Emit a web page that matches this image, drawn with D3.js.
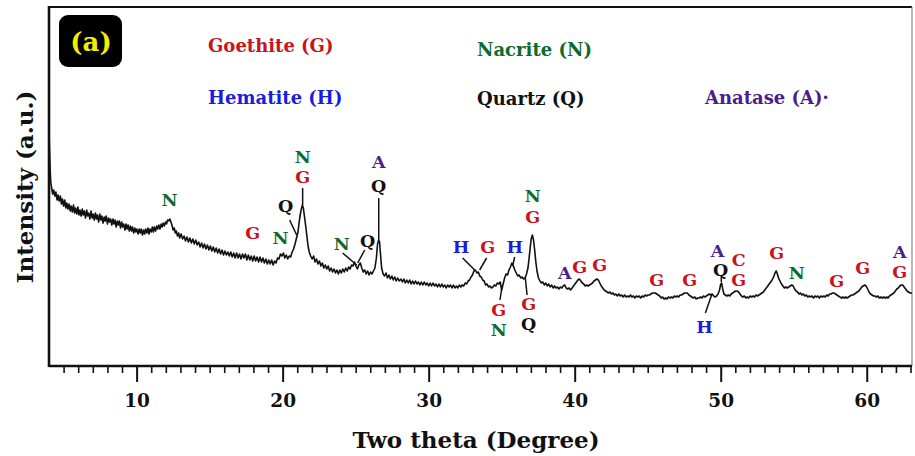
<!DOCTYPE html>
<html>
<head>
<meta charset="utf-8">
<script src="https://cdn.jsdelivr.net/npm/d3@7/dist/d3.min.js"></script>
<style>
  html, body { margin: 0; padding: 0; background: #fff; }
  svg { display: block; }
</style>
</head>
<body>
<svg id="chart" width="915" height="456"></svg>
<script>
// ---------------- DATA ----------------
// XRD pattern: [two theta (deg), intensity (a.u.)]
const pattern = [
[4.00,234],[4.04,215],[4.08,196],[4.12,184],[4.18,178],[4.25,172],[4.32,176],[4.40,170],[4.47,174],[4.55,166],[4.62,171],[4.70,165],[4.78,170],[4.85,162],[4.92,167],[5.00,160],[5.08,166],[5.15,158],[5.22,163],[5.30,157],[5.38,162],[5.45,155],[5.52,160],[5.60,154],[5.68,161],[5.75,153],[5.82,158],[5.90,152],[5.98,159],[6.05,151],[6.12,156],[6.20,150],[6.28,157],[6.35,151],[6.42,155],[6.50,148],[6.58,156],[6.65,150],[6.72,153],[6.80,147],[6.88,155],[6.95,148],[7.02,152],[7.10,146],[7.18,153],[7.25,147],[7.32,151],[7.40,144],[7.48,152],[7.55,146],[7.62,150],[7.70,143],[7.78,149],[7.85,145],[7.92,150],[8.00,142],[8.08,148],[8.15,144],[8.22,147],[8.30,141],[8.38,147],[8.45,142],[8.52,146],[8.60,139],[8.68,145],[8.75,141],[8.82,145],[8.90,138],[8.98,144],[9.05,139],[9.12,142],[9.20,136],[9.28,142],[9.35,137],[9.42,141],[9.50,135],[9.58,140],[9.65,135],[9.72,139],[9.80,133],[9.88,138],[9.95,134],[10.02,137],[10.10,132],[10.18,137],[10.25,133],[10.32,137],[10.40,131],[10.48,136],[10.55,132],[10.62,137],[10.70,133],[10.78,138],[10.85,132],[10.92,137],[11.00,134],[11.08,139],[11.15,134],[11.22,139],[11.30,135],[11.38,140],[11.45,137],[11.52,141],[11.60,137],[11.68,142],[11.75,139],[11.82,143],[11.90,140],[11.98,144],[12.05,142],[12.12,146],[12.20,145],[12.28,147],[12.35,144],[12.42,141],[12.50,136],[12.58,138],[12.65,133],[12.72,135],[12.80,130],[12.88,133],[12.95,128],[13.05,132],[13.15,127],[13.25,130],[13.35,125],[13.45,129],[13.55,124],[13.65,128],[13.75,123],[13.85,127],[13.95,122],[14.05,126],[14.15,121],[14.25,124],[14.35,119],[14.45,123],[14.55,118],[14.65,122],[14.75,117],[14.85,121],[14.95,116],[15.05,120],[15.15,115],[15.25,119],[15.35,114],[15.45,118],[15.55,113],[15.65,117],[15.75,112],[15.85,116],[15.95,111],[16.05,115],[16.15,111],[16.25,114],[16.35,110],[16.45,114],[16.55,109],[16.65,113],[16.75,108],[16.85,113],[16.95,108],[17.05,112],[17.15,107],[17.25,112],[17.35,108],[17.45,112],[17.55,106],[17.65,111],[17.75,106],[17.85,110],[17.95,105],[18.05,110],[18.15,105],[18.25,109],[18.35,104],[18.45,109],[18.55,104],[18.65,108],[18.75,103],[18.85,107],[18.95,102],[19.05,106],[19.15,102],[19.25,106],[19.35,101],[19.45,105],[19.55,103],[19.65,108],[19.75,107],[19.85,112],[19.95,110],[20.05,113],[20.15,108],[20.25,111],[20.35,107],[20.45,110],[20.55,109],[20.65,114],[20.75,117],[20.85,122],[20.95,128],[21.05,134],[21.15,146],[21.25,155],[21.35,161],[21.42,158],[21.50,149],[21.58,140],[21.66,130],[21.74,120],[21.82,114],[21.92,110],[22.02,107],[22.12,110],[22.22,104],[22.32,107],[22.42,102],[22.52,105],[22.62,100],[22.72,103],[22.82,98],[22.92,101],[23.02,97],[23.12,100],[23.22,95],[23.32,98],[23.42,94],[23.52,97],[23.62,93],[23.72,96],[23.82,92],[23.92,96],[24.02,93],[24.12,97],[24.22,94],[24.32,98],[24.42,95],[24.52,99],[24.62,97],[24.72,101],[24.82,100],[24.92,104],[25.02,100],[25.12,97],[25.22,101],[25.32,103],[25.42,98],[25.52,94],[25.62,96],[25.72,92],[25.82,95],[25.92,91],[26.02,94],[26.12,92],[26.22,95],[26.32,98],[26.42,108],[26.50,122],[26.58,126],[26.64,124],[26.70,112],[26.78,98],[26.88,92],[26.98,90],[27.08,93],[27.18,88],[27.28,91],[27.38,87],[27.48,90],[27.58,86],[27.68,89],[27.78,85],[27.88,88],[27.98,85],[28.10,87],[28.20,84],[28.30,87],[28.40,83],[28.50,86],[28.60,83],[28.70,86],[28.80,82],[28.90,85],[29.00,82],[29.10,85],[29.20,82],[29.30,84],[29.40,81],[29.50,84],[29.60,81],[29.70,84],[29.80,81],[29.90,83],[30.00,80],[30.10,83],[30.20,80],[30.30,83],[30.40,80],[30.50,82],[30.60,79],[30.70,82],[30.80,79],[30.90,82],[31.00,79],[31.10,81],[31.20,78],[31.30,81],[31.40,79],[31.50,81],[31.60,78],[31.70,81],[31.80,78],[31.90,80],[32.00,78],[32.10,81],[32.20,79],[32.30,81],[32.40,80],[32.50,83],[32.60,82],[32.70,85],[32.80,86],[32.90,89],[33.00,91],[33.10,95],[33.20,96],[33.30,93],[33.40,94],[33.50,90],[33.60,89],[33.70,86],[33.80,85],[33.90,81],[34.00,82],[34.10,79],[34.20,80],[34.30,78],[34.40,79],[34.50,81],[34.60,80],[34.70,83],[34.80,82],[34.90,84],[35.00,76],[35.10,82],[35.20,88],[35.30,92],[35.40,91],[35.50,96],[35.60,99],[35.70,103],[35.80,100],[35.90,96],[36.00,93],[36.10,90],[36.20,91],[36.30,88],[36.40,89],[36.50,87],[36.60,88],[36.70,92],[36.80,98],[36.88,108],[36.95,118],[37.02,127],[37.10,131],[37.18,126],[37.26,116],[37.34,104],[37.42,95],[37.52,88],[37.62,85],[37.72,83],[37.82,84],[37.92,81],[38.02,83],[38.12,80],[38.22,82],[38.32,79],[38.42,81],[38.52,78],[38.62,80],[38.72,78],[38.82,79],[38.92,77],[39.02,79],[39.12,78],[39.22,80],[39.32,81],[39.42,78],[39.52,77],[39.62,78],[39.72,76],[39.82,78],[39.92,80],[40.02,82],[40.12,84],[40.22,86],[40.32,87],[40.42,85],[40.52,83],[40.62,82],[40.72,80],[40.82,81],[40.92,80],[41.02,81],[41.12,82],[41.22,83],[41.32,85],[41.42,86],[41.52,87],[41.62,86],[41.72,83],[41.82,80],[41.92,78],[42.02,76],[42.12,75],[42.22,74],[42.32,73],[42.42,74],[42.52,72],[42.62,73],[42.72,71],[42.82,72],[42.92,70],[43.02,72],[43.12,70],[43.22,71],[43.32,69],[43.42,71],[43.52,69],[43.62,70],[43.72,69],[43.82,71],[43.92,69],[44.02,70],[44.12,68],[44.22,70],[44.32,69],[44.42,70],[44.52,68],[44.62,70],[44.72,69],[44.82,71],[44.92,70],[45.02,71],[45.12,71],[45.22,72],[45.32,73],[45.42,73],[45.52,73],[45.62,72],[45.72,71],[45.82,70],[45.92,68],[46.02,69],[46.12,67],[46.22,68],[46.32,67],[46.42,69],[46.52,68],[46.62,69],[46.72,68],[46.82,70],[46.92,69],[47.02,70],[47.12,69],[47.22,71],[47.32,71],[47.42,72],[47.52,73],[47.62,73],[47.72,73],[47.82,71],[47.92,70],[48.02,69],[48.12,68],[48.22,69],[48.32,67],[48.42,68],[48.52,68],[48.62,69],[48.72,68],[48.82,70],[48.92,69],[49.02,70],[49.12,71],[49.22,72],[49.32,71],[49.42,72],[49.52,70],[49.62,69],[49.72,70],[49.82,72],[49.92,76],[50.00,82],[50.06,83],[50.14,77],[50.22,72],[50.32,71],[50.42,70],[50.52,71],[50.62,70],[50.72,72],[50.82,73],[50.92,74],[51.02,75],[51.12,75],[51.22,74],[51.32,72],[51.42,70],[51.52,69],[51.62,70],[51.72,68],[51.82,69],[51.92,68],[52.02,70],[52.12,69],[52.22,70],[52.32,69],[52.42,71],[52.52,70],[52.62,71],[52.72,72],[52.82,73],[52.92,74],[53.02,76],[53.12,78],[53.22,80],[53.32,82],[53.42,84],[53.52,86],[53.62,89],[53.72,93],[53.80,95],[53.88,92],[53.96,88],[54.06,85],[54.16,82],[54.26,80],[54.36,78],[54.46,79],[54.56,78],[54.66,79],[54.76,80],[54.86,81],[54.96,80],[55.06,77],[55.16,75],[55.26,74],[55.36,72],[55.46,73],[55.56,71],[55.66,72],[55.76,70],[55.86,71],[55.96,69],[56.06,70],[56.16,69],[56.26,70],[56.36,68],[56.46,70],[56.56,69],[56.66,70],[56.76,68],[56.86,70],[56.96,69],[57.06,70],[57.16,69],[57.26,71],[57.36,70],[57.46,72],[57.56,72],[57.66,73],[57.76,73],[57.86,72],[57.96,71],[58.06,70],[58.16,69],[58.26,68],[58.36,69],[58.46,68],[58.56,69],[58.66,68],[58.76,69],[58.86,70],[58.96,71],[59.06,71],[59.16,72],[59.26,73],[59.36,74],[59.46,75],[59.56,77],[59.66,79],[59.76,80],[59.86,81],[59.96,80],[60.06,77],[60.16,74],[60.26,72],[60.36,71],[60.46,70],[60.56,70],[60.66,69],[60.76,70],[60.86,68],[60.96,69],[61.06,68],[61.16,69],[61.26,68],[61.36,69],[61.46,68],[61.56,70],[61.66,71],[61.76,72],[61.86,73],[61.96,75],[62.06,77],[62.16,78],[62.26,80],[62.36,81],[62.46,81],[62.56,79],[62.66,77],[62.76,75],[62.86,74],[62.96,73],[63.06,73],[63.10,73]
];

// Phase legend
const legendNames = ["Goethite (G)", "Hematite (H)", "Nacrite (N)", "Quartz (Q)", "Anatase (A)\u00b7"];
const legendPhase = ["G", "H", "N", "Q", "A"];

// Peak labels: [letter, two theta, intensity]
const peakLabels = [
["N",12.26,166],["G",17.95,133],["N",19.86,128],["Q",20.20,160],
["N",21.37,209],["G",21.37,189],["N",24.05,122],["Q",25.82,125],
["A",26.58,204],["Q",26.58,180],["H",32.22,119],["G",34.05,119],
["H",35.89,119],["G",34.80,56],["N",34.80,36],["N",37.12,170],
["G",37.12,149],["G",36.85,62],["Q",36.85,42],["A",39.32,93],
["G",40.34,99],["G",41.71,101],["G",45.62,86],["G",47.88,86],
["H",48.90,39],["A",49.79,115],["Q",50.00,96],["C",51.23,106],
["G",51.23,86],["G",53.84,113],["N",55.21,93],["G",57.95,85],
["G",59.73,98],["A",62.26,114],["G",62.26,94]
];

// Leader lines: [theta1, I1, theta2, I2]
const leaders = [
[20.48,146,20.96,131],[21.37,178,21.37,161],[24.11,113,25.07,101],
[25.62,116,25.14,103],[26.58,168,26.58,126],[32.33,108,33.15,96],
[33.97,108,33.49,96],[35.89,109,35.75,100],[35.00,77,34.88,66],
[36.62,88,36.74,71],[49.40,72,48.95,53],[50.04,90,50.04,84]
];

const majorTicks = [10, 20, 30, 40, 50, 60];
const minorTicks = [5,6,7,8,9,11,12,13,14,15,16,17,18,19,21,22,23,24,25,26,27,28,29,31,32,33,34,35,36,37,38,39,41,42,43,44,45,46,47,48,49,51,52,53,54,55,56,57,58,59,61,62,63];

const xTitle = "Two theta (Degree)";
const yTitle = "Intensity (a.u.)";
const panelTag = "(a)";

// ---------------- STYLE ----------------
const phaseColor = { G: "#c8141c", C: "#c8141c", H: "#1c1ce0", N: "#0d6a2c", Q: "#111111", A: "#4e1d8c" };
const serif = "'DejaVu Serif', 'Liberation Serif', serif";

const svg = d3.select("#chart");
const L = 49, R = 912, T = 7, B = 366;

const x = d3.scaleLinear().domain([4, 63.1]).range([L, R]);
const y = d3.scaleLinear().domain([0, 359]).range([B, T]);

// frame: top + right
svg.append("line").attr("x1", L).attr("x2", R).attr("y1", T).attr("y2", T)
  .attr("stroke", "#111").attr("stroke-width", 2.2);
svg.append("line").attr("x1", R).attr("x2", R).attr("y1", T).attr("y2", B)
  .attr("stroke", "#888").attr("stroke-width", 1.2);

// curve
const line = d3.line().x(d => x(d[0])).y(d => y(d[1]));
svg.append("path").datum(pattern).attr("d", line)
  .attr("fill", "none").attr("stroke", "#111").attr("stroke-width", 1.6)
  .attr("stroke-linejoin", "round");

// leaders
svg.append("g").selectAll("line").data(leaders).join("line")
  .attr("x1", d => x(d[0])).attr("y1", d => y(d[1]))
  .attr("x2", d => x(d[2])).attr("y2", d => y(d[3]))
  .attr("stroke", "#111").attr("stroke-width", 1.5);

// peak labels
svg.append("g").selectAll("text").data(peakLabels).join("text")
  .attr("x", d => x(d[1])).attr("y", d => y(d[2]))
  .attr("dy", "0.36em")
  .attr("text-anchor", "middle")
  .attr("font-family", serif).attr("font-weight", "bold").attr("font-size", 17.5)
  .attr("fill", d => phaseColor[d[0]])
  .text(d => d[0]);

// legend texts
const legendPos = [[208, 52], [208, 104], [477, 56], [477, 105], [705, 104]];
svg.append("g").selectAll("text").data(legendNames).join("text")
  .attr("x", (d, i) => legendPos[i][0]).attr("y", (d, i) => legendPos[i][1])
  .attr("font-family", serif).attr("font-weight", "bold").attr("font-size", 18)
  .attr("fill", (d, i) => phaseColor[legendPhase[i]])
  .text(d => d);

// panel tag
svg.append("rect").attr("x", 59).attr("y", 15).attr("width", 63).attr("height", 52)
  .attr("rx", 9).attr("fill", "#000");
svg.append("text").attr("x", 91).attr("y", 51).attr("text-anchor", "middle")
  .attr("font-family", serif).attr("font-weight", "bold").attr("font-size", 26)
  .attr("fill", "#f6ee00").text(panelTag);

// x axis: minor then major
const gMinor = svg.append("g").attr("transform", `translate(0,${B})`)
  .call(d3.axisBottom(x).tickValues(minorTicks).tickSize(7).tickFormat(""));
gMinor.select(".domain").remove();
gMinor.selectAll(".tick line").attr("stroke", "#111").attr("stroke-width", 1.6);

const gMajor = svg.append("g").attr("transform", `translate(0,${B})`)
  .call(d3.axisBottom(x).tickValues(majorTicks).tickSize(16).tickPadding(12).tickFormat(d3.format("d")));
gMajor.select(".domain").remove();
gMajor.selectAll(".tick line").attr("stroke", "#111").attr("stroke-width", 2);
gMajor.selectAll(".tick text").attr("font-family", serif).attr("font-weight", "bold")
  .attr("font-size", 18.5).attr("fill", "#111");

// axis lines (bottom + left)
svg.append("line").attr("x1", L).attr("x2", R).attr("y1", B).attr("y2", B)
  .attr("stroke", "#111").attr("stroke-width", 2.6);
svg.append("line").attr("x1", L).attr("x2", L).attr("y1", T - 1).attr("y2", B + 1)
  .attr("stroke", "#111").attr("stroke-width", 2.6);

// titles
svg.append("text").attr("x", 476).attr("y", 448).attr("text-anchor", "middle")
  .attr("font-family", serif).attr("font-weight", "bold").attr("font-size", 23)
  .attr("fill", "#111").text(xTitle);
svg.append("text").attr("transform", "translate(33,187) rotate(-90)")
  .attr("text-anchor", "middle")
  .attr("font-family", serif).attr("font-weight", "bold").attr("font-size", 23)
  .attr("fill", "#111").text(yTitle);
</script>
</body>
</html>
